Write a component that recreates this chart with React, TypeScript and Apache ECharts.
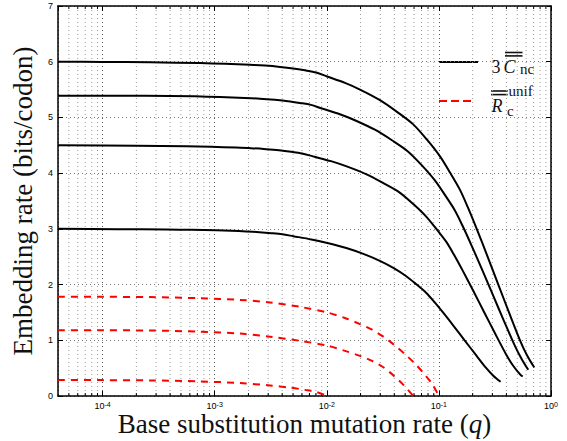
import React, { useEffect, useRef } from 'react';
import * as echarts from 'echarts';

// ---- axes ----
const X_MIN = 4e-5;
const X_MAX = 1;
const Y_MIN = 0;
const Y_MAX = 7;
const Y_INTERVAL = 1;
const MINOR_MULTIPLIERS = [2, 3, 4, 5, 6, 7, 8, 9];
const DECADE_EXPONENTS = [-5, -4, -3, -2, -1];

// ---- series: 3 * C_nc (solid black), [q, rate] ----
const C_D0: number[][] = [
  [4e-5, 6.0], [9.88e-5, 5.995], [2.65e-4, 5.99], [7.38e-4, 5.975], [1.236e-3, 5.963],
  [2.065e-3, 5.945], [2.81e-3, 5.93], [3.82e-3, 5.907], [4.99e-3, 5.88], [6.39e-3, 5.845],
  [8.04e-3, 5.805], [1.005e-2, 5.735], [1.453e-2, 5.62], [1.977e-2, 5.5], [2.98e-2, 5.31],
  [4.23e-2, 5.1], [5.87e-2, 4.88], [7.83e-2, 4.6], [0.1023, 4.3], [0.1256, 4.01],
  [0.1542, 3.7], [0.1818, 3.38], [0.2174, 3.0], [0.2686, 2.53], [0.3388, 2.0],
  [0.4219, 1.5], [0.529, 1.0], [0.6108, 0.73], [0.7096, 0.51],
];
const C_D01: number[][] = [
  [4e-5, 5.39], [2.385e-4, 5.389], [6.66e-4, 5.378], [1.112e-3, 5.367], [1.86e-3, 5.35],
  [2.53e-3, 5.337], [3.44e-3, 5.316], [4.5e-3, 5.292], [5.75e-3, 5.26], [7.21e-3, 5.225],
  [9.04e-3, 5.16], [1.309e-2, 5.058], [1.781e-2, 4.95], [2.685e-2, 4.779], [3.81e-2, 4.59],
  [5.29e-2, 4.39], [7.05e-2, 4.14], [9.21e-2, 3.87], [0.1131, 3.609], [0.1389, 3.33],
  [0.1637, 3.042], [0.1957, 2.7], [0.2418, 2.277], [0.305, 1.8], [0.3801, 1.35],
  [0.4764, 0.9], [0.55, 0.657], [0.627, 0.47],
];
const C_D025: number[][] = [
  [4e-5, 4.5], [1.986e-4, 4.493], [5.55e-4, 4.481], [9.27e-4, 4.472], [1.549e-3, 4.459],
  [2.11e-3, 4.448], [2.87e-3, 4.43], [3.75e-3, 4.41], [4.8e-3, 4.384], [6.01e-3, 4.354],
  [7.53e-3, 4.301], [1.09e-2, 4.215], [1.483e-2, 4.125], [2.238e-2, 3.983], [3.17e-2, 3.825],
  [4.41e-2, 3.66], [5.87e-2, 3.45], [7.67e-2, 3.225], [9.42e-2, 3.008], [0.1157, 2.775],
  [0.1364, 2.535], [0.1631, 2.25], [0.2014, 1.898], [0.2541, 1.5], [0.3165, 1.125],
  [0.3968, 0.75], [0.4581, 0.548], [0.5323, 0.383], [0.5592, 0.35],
];
const C_D05: number[][] = [
  [4e-5, 3.0], [1.325e-4, 2.995], [3.7e-4, 2.988], [6.18e-4, 2.982], [1.033e-3, 2.973],
  [1.406e-3, 2.965], [1.914e-3, 2.954], [2.5e-3, 2.94], [3.2e-3, 2.923], [4.01e-3, 2.903],
  [5.03e-3, 2.868], [7.28e-3, 2.81], [9.9e-3, 2.75], [1.493e-2, 2.655], [2.117e-2, 2.55],
  [2.94e-2, 2.43], [3.92e-2, 2.3], [5.12e-2, 2.15], [6.29e-2, 2.005], [7.72e-2, 1.85],
  [9.1e-2, 1.69], [0.1088, 1.5], [0.1344, 1.265], [0.1696, 1.0], [0.2113, 0.75],
  [0.2647, 0.5], [0.3056, 0.365], [0.3551, 0.255],
];

// ---- series: R_c^unif (dashed red), [q, rate] ----
const R_D0: number[][] = [
  [4e-5, 1.78], [9.88e-5, 1.78], [2.65e-4, 1.775], [7.38e-4, 1.755], [1.682e-3, 1.725],
  [3.11e-3, 1.68], [5.77e-3, 1.6], [1.005e-2, 1.5], [1.453e-2, 1.4], [1.977e-2, 1.29],
  [2.53e-2, 1.19], [3.17e-2, 1.07], [3.976e-2, 0.92], [4.99e-2, 0.75], [6.12e-2, 0.58],
  [7.36e-2, 0.4], [8.68e-2, 0.22], [0.1, 0.0],
];
const R_D01: number[][] = [
  [4e-5, 1.18], [9.88e-5, 1.18], [2.65e-4, 1.175], [7.38e-4, 1.155], [1.682e-3, 1.12],
  [3.11e-3, 1.065], [5.77e-3, 0.99], [1.005e-2, 0.905], [1.453e-2, 0.81], [1.977e-2, 0.72],
  [2.53e-2, 0.63], [3.17e-2, 0.52], [3.976e-2, 0.36], [4.88e-2, 0.19], [5.91e-2, 0.0],
];
const R_D025: number[][] = [
  [4e-5, 0.287], [9.88e-5, 0.285], [2.65e-4, 0.28], [7.38e-4, 0.262], [1.682e-3, 0.232],
  [3.11e-3, 0.19], [4.7e-3, 0.15], [6.39e-3, 0.11], [8.18e-3, 0.07], [9.98e-3, 0.0],
];

// ---- curve annotations ----
const C_LABELS = ['δ = 0', 'δ = 0.1', 'δ = 0.25', 'δ = 0.5'];
const C_LABEL_Q = [1.28e-4, 2.2e-4, 3.46e-4, 4.43e-4];
const C_LABEL_Y = [6.19, 5.6, 4.72, 3.22];
const R_LABELS = ['δ = 0', 'δ = 0.1', 'δ = 0.25'];
const R_LABEL_Q = [1.36e-3, 2.31e-3, 3.72e-3];
const R_LABEL_Y = [1.96, 1.36, 0.436];

const X_TITLE = 'Base substitution mutation rate ({i|q})';
const Y_TITLE = 'Embedding rate (bits/codon)';

export default function App() {
  const ref = useRef<HTMLDivElement>(null);

  useEffect(() => {
    const chart = echarts.init(ref.current!, null, { renderer: 'svg' });
    const serif = '"Liberation Serif", "Times New Roman", serif';
    const sans = '"Liberation Sans", Arial, sans-serif';

    const minorX: number[] = [];
    DECADE_EXPONENTS.forEach((e) => {
      MINOR_MULTIPLIERS.forEach((m) => {
        const v = m * Math.pow(10, e);
        if (v > X_MIN && v < X_MAX) minorX.push(v);
      });
    });

    const splitTo = (s: string) => {
      const i = s.indexOf(' ');
      return '{i|' + s.slice(0, i) + '}' + s.slice(i);
    };

    const labelPoints = [
      ...C_LABELS.map((t, i) => ({ value: [C_LABEL_Q[i], C_LABEL_Y[i]], name: t })),
      ...R_LABELS.map((t, i) => ({ value: [R_LABEL_Q[i], R_LABEL_Y[i]], name: t })),
    ];

    const solid = (data: number[][]) => ({
      type: 'line', data, showSymbol: false, symbol: 'none', smooth: 0.3,
      lineStyle: { color: '#000', width: 2 }, z: 4, silent: true,
    });
    const dashed = (data: number[][]) => ({
      type: 'line', data, showSymbol: false, symbol: 'none', smooth: 0.3,
      lineStyle: { color: '#ff0000', width: 2, type: [7, 6] }, z: 4, silent: true,
    });

    const option: any = {
      animation: false,
      backgroundColor: '#ffffff',
      grid: { left: 58, right: 16, top: 6, bottom: 45, containLabel: false, outerBoundsMode: 'none' },
      xAxis: [
        {
          type: 'log', logBase: 10, min: X_MIN, max: X_MAX, position: 'bottom',
          axisLine: { show: true, onZero: false, lineStyle: { color: '#000', width: 1.5 } },
          axisTick: { show: true, inside: true, length: 5, lineStyle: { color: '#000' } },
          axisLabel: {
            show: true, margin: 5, showMinLabel: false,
            formatter: (v: number) => {
              const e = Math.log10(v);
              if (Math.abs(e - Math.round(e)) > 1e-6) return '';
              return '{b|10}{s|' + Math.round(e) + '}';
            },
            rich: {
              b: { fontSize: 9, fontFamily: sans, color: '#000', lineHeight: 9, verticalAlign: 'bottom' },
              s: { fontSize: 7, fontFamily: sans, color: '#000', lineHeight: 3, verticalAlign: 'top' },
            },
          },
          splitLine: { show: true, lineStyle: { color: '#555', width: 1, type: [1, 3] } },
          name: X_TITLE, nameLocation: 'middle', nameGap: 21, nameMoveOverlap: false,
          nameTextStyle: {
            fontFamily: serif, fontSize: 27, lineHeight: 14, color: '#111',
            rich: { i: { fontFamily: serif, fontSize: 27, lineHeight: 14, fontStyle: 'italic', color: '#111' } },
          },
        },
        {
          type: 'log', logBase: 10, min: X_MIN, max: X_MAX, position: 'top',
          axisLine: { show: true, onZero: false, lineStyle: { color: '#000', width: 1.5 } },
          axisTick: { show: true, inside: true, length: 5, lineStyle: { color: '#000' } },
          axisLabel: { show: false }, splitLine: { show: false },
        },
      ],
      yAxis: [
        {
          type: 'value', min: Y_MIN, max: Y_MAX, interval: Y_INTERVAL, position: 'left',
          axisLine: { show: true, onZero: false, lineStyle: { color: '#000', width: 1.5 } },
          axisTick: { show: true, inside: true, length: 5, lineStyle: { color: '#000' } },
          axisLabel: { fontSize: 9, fontFamily: sans, color: '#000', margin: 5 },
          splitLine: { show: true, lineStyle: { color: '#777', width: 1, type: [1, 3] } },
          name: Y_TITLE, nameLocation: 'middle', nameGap: 22, nameMoveOverlap: false,
          nameTextStyle: { fontFamily: serif, fontSize: 27, color: '#111' },
        },
        {
          type: 'value', min: Y_MIN, max: Y_MAX, interval: Y_INTERVAL, position: 'right',
          axisLine: { show: true, onZero: false, lineStyle: { color: '#000', width: 1.5 } },
          axisTick: { show: true, inside: true, length: 5, lineStyle: { color: '#000' } },
          axisLabel: { show: false }, splitLine: { show: false },
        },
      ],
      series: [
        {
          type: 'custom', silent: true, z: 1, xAxisIndex: 0, yAxisIndex: 0,
          data: minorX.map((v) => [v, 0]),
          encode: { x: 0, y: 1 },
          renderItem: (params: any, api: any) => {
            const v = api.value(0);
            const b = api.coord([v, Y_MIN]);
            const t = api.coord([v, Y_MAX]);
            return {
              type: 'group',
              children: [
                { type: 'line', shape: { x1: b[0], y1: t[1], x2: b[0], y2: b[1] },
                  style: { stroke: '#9a9a9a', lineWidth: 1, lineDash: [1, 3] } },
                { type: 'line', shape: { x1: b[0], y1: b[1], x2: b[0], y2: b[1] - 3 },
                  style: { stroke: '#000', lineWidth: 1 } },
                { type: 'line', shape: { x1: b[0], y1: t[1], x2: b[0], y2: t[1] + 3 },
                  style: { stroke: '#000', lineWidth: 1 } },
              ],
            };
          },
        },
        solid(C_D0), solid(C_D01), solid(C_D025), solid(C_D05),
        dashed(R_D0), dashed(R_D01), dashed(R_D025),
        {
          type: 'scatter', data: labelPoints, symbol: 'circle', symbolSize: 1,
          itemStyle: { opacity: 0 }, silent: true, z: 5,
          label: {
            show: true, position: 'inside', color: '#111',
            fontFamily: serif, fontSize: 22,
            formatter: (p: any) => splitTo(p.name),
            rich: { i: { fontFamily: serif, fontSize: 22, fontStyle: 'italic', color: '#111' } },
          },
        },
      ],
      graphic: [
        { type: 'line', shape: { x1: 439, y1: 62, x2: 478, y2: 62 }, style: { stroke: '#000', lineWidth: 2 } },
        { type: 'line', shape: { x1: 439, y1: 101, x2: 474, y2: 101 }, style: { stroke: '#ff0000', lineWidth: 2, lineDash: [8, 4] } },
        { type: 'text', x: 491.5, y: 66.6, style: { text: '3', font: '18px "Liberation Serif"', fill: '#111', textVerticalAlign: 'middle' } },
        { type: 'text', x: 503.5, y: 66.6, style: { text: 'C', font: 'italic 18px "Liberation Serif"', fill: '#111', textVerticalAlign: 'middle' } },
        { type: 'text', x: 520, y: 69, style: { text: 'nc', font: '15px "Liberation Serif"', fill: '#111', textVerticalAlign: 'middle' } },
        { type: 'rect', shape: { x: 505, y: 51.7, width: 17.5, height: 1.6 }, style: { fill: '#111' } },
        { type: 'rect', shape: { x: 505, y: 55.1, width: 17.5, height: 1.6 }, style: { fill: '#111' } },
        { type: 'text', x: 491.5, y: 105.6, style: { text: 'R', font: 'italic 18px "Liberation Serif"', fill: '#111', textVerticalAlign: 'middle' } },
        { type: 'text', x: 507, y: 110.9, style: { text: 'c', font: '15px "Liberation Serif"', fill: '#111', textVerticalAlign: 'middle' } },
        { type: 'text', x: 508.5, y: 91, style: { text: 'unif', font: '15px "Liberation Serif"', fill: '#111', textVerticalAlign: 'middle' } },
        { type: 'rect', shape: { x: 491, y: 90.2, width: 16.7, height: 1.6 }, style: { fill: '#111' } },
        { type: 'rect', shape: { x: 491, y: 93.8, width: 16.7, height: 1.6 }, style: { fill: '#111' } },
      ],
    };

    chart.setOption(option);
    return () => chart.dispose();
  }, []);

  return (
    <div
      ref={ref}
      style={{ position: 'absolute', left: 0, top: 0, width: 567, height: 441, background: '#fff' }}
    />
  );
}
